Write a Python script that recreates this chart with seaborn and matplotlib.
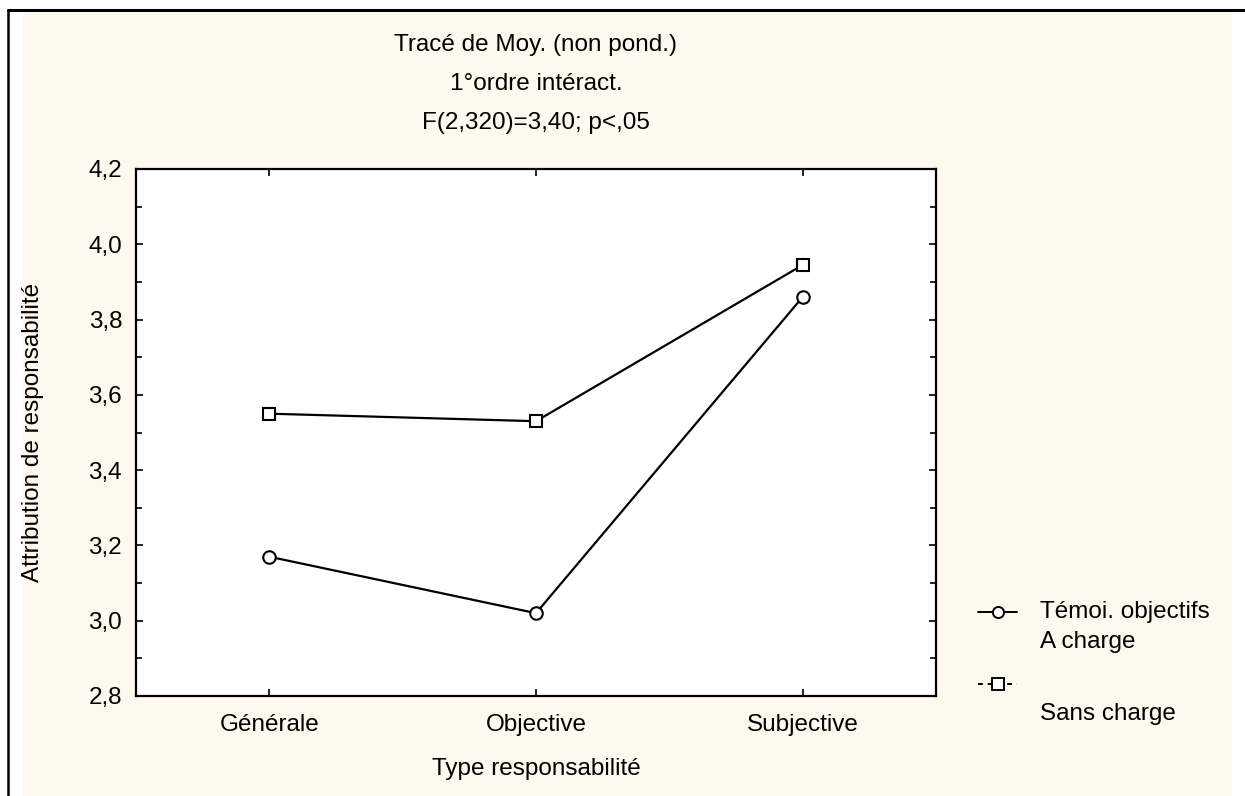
import matplotlib
matplotlib.use("Agg")
import matplotlib.pyplot as plt
from matplotlib.lines import Line2D
from matplotlib.patches import Rectangle
from matplotlib.ticker import MultipleLocator, FuncFormatter
import seaborn as sns
import pandas as pd

categories = ["Générale", "Objective", "Subjective"]
a_charge = [3.17, 3.02, 3.86]
sans_charge = [3.55, 3.53, 3.945]
series_names = ["A charge", "Sans charge"]
yticks = [2.8, 3.0, 3.2, 3.4, 3.6, 3.8, 4.0, 4.2]

df = pd.DataFrame({
    "Type": categories * 2,
    "val": a_charge + sans_charge,
    "grp": [series_names[0]] * 3 + [series_names[1]] * 3,
})

sns.set_theme(style="white")
plt.rcParams["font.family"] = ["Liberation Sans", "DejaVu Sans"]
plt.rcParams["text.color"] = "black"
FS = 17.5

W, H = 1245, 796
fig = plt.figure(figsize=(W / 100, H / 100), dpi=100)
fig.patch.set_facecolor("white")

# cream background panel + border lines
fig.patches.append(Rectangle((23 / W, 0), (1232 - 23) / W, (796 - 13) / H,
                             transform=fig.transFigure, facecolor="#FEF9EE",
                             edgecolor="none", zorder=-10))
fig.lines.append(Line2D([8 / W, 1], [1 - 10 / H, 1 - 10 / H], transform=fig.transFigure,
                        color="black", lw=2.2))
fig.lines.append(Line2D([8 / W, 8 / W], [0, 1 - 10 / H], transform=fig.transFigure,
                        color="black", lw=1.8))

ax = fig.add_axes([136 / W, 100 / H, 800 / W, 527 / H])
ax.set_facecolor("white")

sns.lineplot(data=df, x="Type", y="val", hue="grp", style="grp",
             hue_order=series_names, style_order=series_names,
             palette=["black", "black"], markers={"A charge": "o", "Sans charge": "s"},
             dashes=False, sort=False, lw=1.6, markersize=9,
             markerfacecolor="white", markeredgecolor="black", markeredgewidth=1.5,
             legend=False, ax=ax)

ax.set_xlim(-0.5, 2.5)
ax.set_ylim(2.8, 4.2)
ax.set_yticks(yticks)
ax.yaxis.set_minor_locator(MultipleLocator(0.1))
ax.yaxis.set_major_formatter(FuncFormatter(lambda v, p: f"{v:.1f}".replace(".", ",")))
ax.tick_params(axis="both", which="both", direction="in", top=True, right=True,
               left=True, bottom=True, color="black", width=1.2)
ax.tick_params(axis="both", which="major", length=5, labelsize=FS, pad=10, labelcolor="black")
ax.tick_params(axis="y", which="minor", length=4)
ax.tick_params(axis="x", which="major", pad=13)
for s in ax.spines.values():
    s.set_color("black")
    s.set_linewidth(1.6)

ax.set_xlabel("")
ax.set_ylabel("")
fig.text(536 / W, 1 - 769 / H, "Type responsabilité", ha="center", va="center", fontsize=FS)
fig.text(33 / W, 1 - 432 / H, "Attribution de responsabilité", ha="center", va="center",
         rotation=90, fontsize=FS)

for i, t in enumerate(["Tracé de Moy. (non pond.)", "1°ordre intéract.", "F(2,320)=3,40; p<,05"]):
    fig.text(536 / W, 1 - (45 + 39 * i) / H, t, ha="center", va="center", fontsize=FS)

# legend (manual, STATISTICA style)
fig.lines.append(Line2D([978 / W, 1017 / W], [1 - 612 / H] * 2, transform=fig.transFigure,
                        color="black", lw=1.4))
fig.lines.append(Line2D([997.5 / W], [1 - 612 / H], transform=fig.transFigure, marker="o",
                        markersize=8, mfc="white", mec="black", mew=1.4, ls="none"))
fig.lines.append(Line2D([978 / W, 1017 / W], [1 - 684 / H] * 2, transform=fig.transFigure,
                        color="black", lw=1.4, ls=(0, (2.5, 2.5))))
fig.lines.append(Line2D([997.5 / W], [1 - 684 / H], transform=fig.transFigure, marker="s",
                        markersize=8, mfc="white", mec="black", mew=1.4, ls="none"))
fig.text(1040 / W, 1 - 612 / H, "Témoi. objectifs", ha="left", va="center", fontsize=FS)
fig.text(1040 / W, 1 - 642 / H, series_names[0], ha="left", va="center", fontsize=FS)
fig.text(1040 / W, 1 - 714 / H, series_names[1], ha="left", va="center", fontsize=FS)

fig.savefig("out.png", dpi=100)
